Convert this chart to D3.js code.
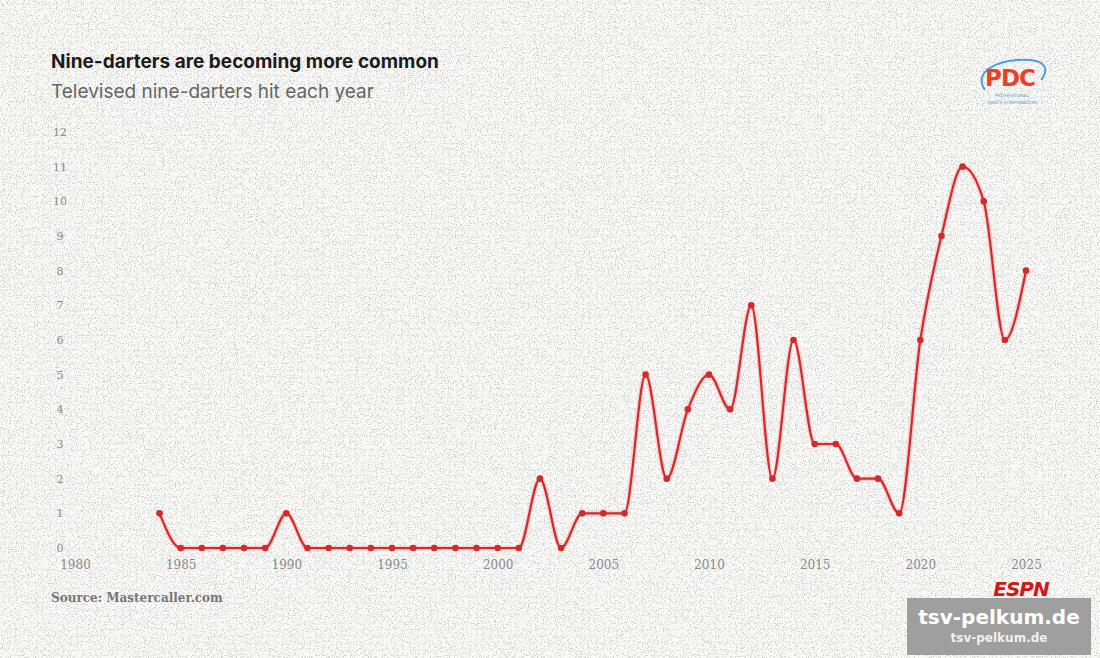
<!DOCTYPE html>
<html><head><meta charset="utf-8">
<script src="https://cdn.jsdelivr.net/npm/d3@7/dist/d3.min.js"></script>
<style>
html,body{margin:0;padding:0;background:#f6f6f4;}
svg{display:block;}
</style></head>
<body>
<svg id="chart" width="1100" height="658"></svg>
<script>
const years = [1984,1985,1986,1987,1988,1989,1990,1991,1992,1993,1994,1995,1996,1997,1998,1999,2000,2001,2002,2003,2004,2005,2006,2007,2008,2009,2010,2011,2012,2013,2014,2015,2016,2017,2018,2019,2020,2021,2022,2023,2024,2025];
const nineDarters = [1,0,0,0,0,0,1,0,0,0,0,0,0,0,0,0,0,0,2,0,1,1,1,5,2,4,5,4,7,2,6,3,3,2,2,1,6,9,11,10,6,8];
const xTicks = [1980,1985,1990,1995,2000,2005,2010,2015,2020,2025];
const yTicks = [0,1,2,3,4,5,6,7,8,9,10,11,12];

const svg = d3.select("#chart");
const W = 1100, H = 658;

// background with speckle texture
const defs = svg.append("defs");
const f = defs.append("filter").attr("id","noise").attr("x",0).attr("y",0).attr("width","100%").attr("height","100%");
f.append("feTurbulence").attr("type","fractalNoise").attr("baseFrequency",0.85).attr("numOctaves",2).attr("seed",7).attr("result","t");
f.append("feColorMatrix").attr("in","t").attr("type","matrix")
 .attr("values","0 0 0 0 0.5  0 0 0 0 0.5  0 0 0 0 0.48  0 0 0 -14 5.9");
svg.append("rect").attr("width",W).attr("height",H).attr("fill","#f8f8f6");
svg.append("rect").attr("width",W).attr("height",H).attr("filter","url(#noise)").attr("opacity",0.6);

const x = d3.scaleLinear().domain([1980,2025]).range([75,1026]);
const y = d3.scaleLinear().domain([0,12]).range([548,132]);

// titles
svg.append("text").attr("x",51).attr("y",68).text("Nine-darters are becoming more common")
  .attr("font-family","Inter, 'Open Sans', sans-serif").attr("font-weight",700).attr("font-size",19).attr("fill","#1c1c1c");
svg.append("text").attr("x",51).attr("y",98).text("Televised nine-darters hit each year")
  .attr("font-family","Inter, 'Open Sans', sans-serif").attr("font-weight",400).attr("font-size",19).attr("fill","#666");

// y axis labels
const yAxis = d3.axisLeft(y).tickValues(yTicks).tickSize(0).tickPadding(0);
const gy = svg.append("g").attr("transform","translate(60,0)").call(yAxis);
gy.select(".domain").remove();
gy.selectAll("text").attr("text-anchor","middle").attr("font-family","'DejaVu Serif', 'Liberation Serif', serif").attr("font-size",11).attr("fill","#8a8a8a");

// x axis labels
const xAxis = d3.axisBottom(x).tickValues(xTicks).tickFormat(d3.format("d")).tickSize(0).tickPadding(0);
const gx = svg.append("g").attr("transform","translate(0,560)").call(xAxis);
gx.select(".domain").remove();
gx.selectAll("text").attr("font-family","'DejaVu Serif', 'Liberation Serif', serif").attr("font-size",12).attr("fill","#8a8a8a");

// line
const data = years.map((yr,i)=>({yr, v:nineDarters[i]}));
const line = d3.line().x(d=>x(d.yr)).y(d=>y(d.v)).curve(d3.curveMonotoneX);
svg.append("path").datum(data).attr("d",line).attr("fill","none").attr("stroke","#f3b0b0").attr("stroke-width",5).attr("opacity",0.5);
svg.append("path").datum(data).attr("d",line).attr("fill","none").attr("stroke","#d42a2a").attr("stroke-width",2.2);
svg.selectAll("circle.pt").data(data).join("circle").attr("class","pt")
  .attr("cx",d=>x(d.yr)).attr("cy",d=>y(d.v)).attr("r",3.3).attr("fill","#d42a2a");

// source
svg.append("text").attr("x",51).attr("y",602).text("Source: Mastercaller.com")
  .attr("font-family","'DejaVu Serif', 'Liberation Serif', serif").attr("font-weight",700).attr("font-size",12).attr("fill","#777");

// PDC logo
const logo = svg.append("g");
logo.append("path").attr("d","M985,90 C972,72 998,58 1030,60 C1046,61 1049,70 1041,80")
  .attr("fill","none").attr("stroke","#4aa0d8").attr("stroke-width",2);
logo.append("text").attr("x",1010).attr("y",86).attr("text-anchor","middle").text("PDC")
  .attr("font-family","'DejaVu Sans', sans-serif").attr("font-weight",700).attr("font-size",23).attr("fill","#e8402a").attr("letter-spacing","-1");
logo.append("text").attr("x",1012).attr("y",97).attr("text-anchor","middle").text("PROFESSIONAL")
  .attr("font-family","'DejaVu Sans', sans-serif").attr("font-size",4.5).attr("fill","#5a9fd0");
logo.append("text").attr("x",1012).attr("y",104).attr("text-anchor","middle").text("DARTS CORPORATION")
  .attr("font-family","'DejaVu Sans', sans-serif").attr("font-size",4.5).attr("fill","#5a9fd0");

// ESPN
svg.append("text").attr("x",1021).attr("y",596).attr("text-anchor","middle").text("ESPN")
  .attr("font-family","'DejaVu Sans', sans-serif").attr("font-weight",700).attr("font-style","italic").attr("font-size",20).attr("fill","#d01818").attr("letter-spacing","-1");

// watermark
svg.append("rect").attr("x",907).attr("y",598).attr("width",184).attr("height",57).attr("fill","#9a9a9a").attr("opacity",0.95);
svg.append("text").attr("x",999).attr("y",624).attr("text-anchor","middle").text("tsv-pelkum.de")
  .attr("font-family","'DejaVu Sans', sans-serif").attr("font-weight",700).attr("font-size",20).attr("fill","#ffffff");
svg.append("text").attr("x",999).attr("y",642).attr("text-anchor","middle").text("tsv-pelkum.de")
  .attr("font-family","'DejaVu Sans', sans-serif").attr("font-weight",700).attr("font-size",12).attr("fill","#f0f0f0");
</script>
</body></html>
